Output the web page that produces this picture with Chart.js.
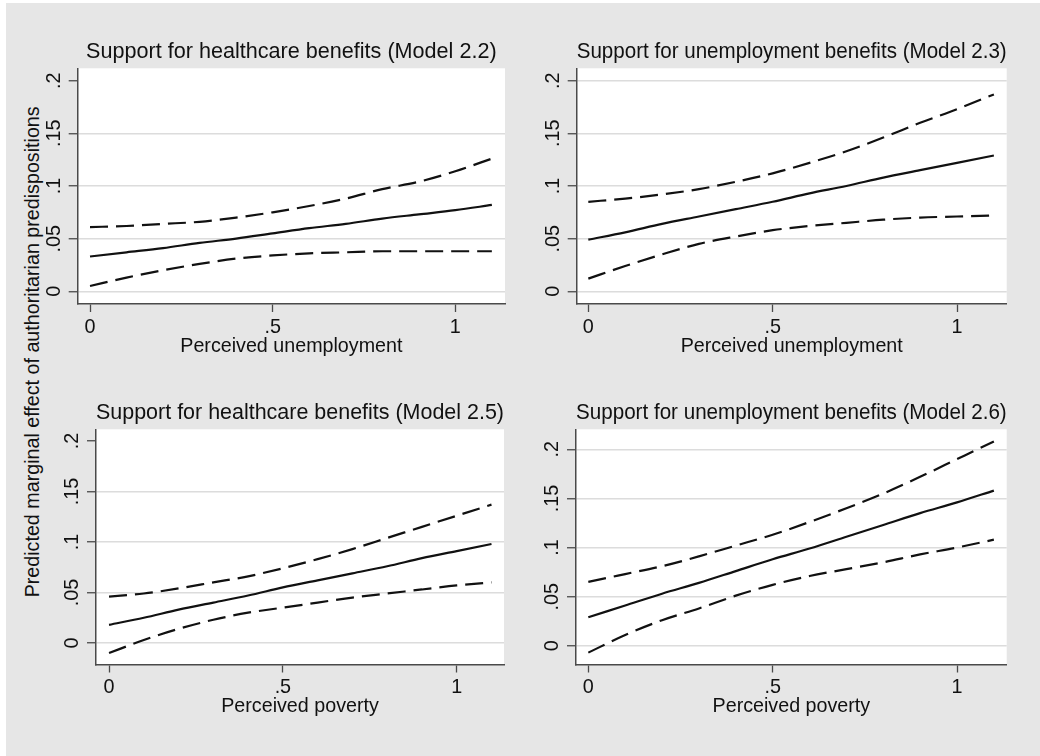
<!DOCTYPE html>
<html>
<head>
<meta charset="utf-8">
<script src="https://cdn.jsdelivr.net/npm/chart.js@4/dist/chart.umd.min.js"></script>
<style>
  html, body { margin: 0; padding: 0; }
  body { width: 1040px; height: 756px; background: #ffffff; position: relative; overflow: hidden;
         font-family: "Liberation Sans", Arial, sans-serif; }
  #frame { position: absolute; left: 6px; top: 3px; right: 0; bottom: 0; background: #e6e6e6; }
  canvas { position: absolute; }
  #ytitle { position: absolute; width: 600px; height: 19.7px; line-height: 19.7px; font-size: 19.7px;
            left: -266.8px; top: 341.6px; text-align: center; white-space: nowrap; color: #111;
            transform: rotate(-90deg); }
</style>
</head>
<body>
<div id="frame"></div>
<div id="ytitle">Predicted marginal effect of authoritarian predispositions</div>
<script>
// Values of the moderator at which the marginal effect was evaluated
const xValues = [0, 0.1, 0.2, 0.3, 0.4, 0.5, 0.6, 0.7, 0.8, 0.9, 1.0, 1.1];

// Model 2.2 – healthcare benefits by perceived unemployment
const est22   = [0.033, 0.037, 0.041, 0.046, 0.050, 0.055, 0.060, 0.064, 0.069, 0.073, 0.077, 0.082];
const upper22 = [0.061, 0.062, 0.064, 0.066, 0.070, 0.075, 0.081, 0.088, 0.097, 0.104, 0.114, 0.126];
const lower22 = [0.005, 0.013, 0.020, 0.026, 0.031, 0.034, 0.036, 0.037, 0.038, 0.038, 0.038, 0.038];

// Model 2.3 – unemployment benefits by perceived unemployment
const est23   = [0.049, 0.056, 0.064, 0.071, 0.078, 0.085, 0.093, 0.100, 0.108, 0.115, 0.122, 0.129];
const upper23 = [0.085, 0.088, 0.092, 0.097, 0.104, 0.112, 0.122, 0.133, 0.146, 0.160, 0.173, 0.187];
const lower23 = [0.012, 0.024, 0.035, 0.045, 0.052, 0.058, 0.062, 0.065, 0.068, 0.070, 0.071, 0.072];

// Model 2.5 – healthcare benefits by perceived poverty
const est25   = [0.018, 0.025, 0.033, 0.040, 0.047, 0.055, 0.062, 0.069, 0.076, 0.084, 0.091, 0.098];
const upper25 = [0.046, 0.049, 0.054, 0.060, 0.066, 0.074, 0.083, 0.093, 0.104, 0.115, 0.126, 0.137];
const lower25 = [-0.010, 0.003, 0.014, 0.023, 0.030, 0.035, 0.040, 0.045, 0.049, 0.053, 0.057, 0.060];

// Model 2.6 – unemployment benefits by perceived poverty
const est26   = [0.029, 0.041, 0.053, 0.064, 0.076, 0.088, 0.099, 0.111, 0.123, 0.135, 0.146, 0.158];
const upper26 = [0.065, 0.073, 0.081, 0.091, 0.102, 0.113, 0.126, 0.140, 0.155, 0.172, 0.190, 0.208];
const lower26 = [-0.007, 0.011, 0.026, 0.038, 0.051, 0.062, 0.071, 0.078, 0.085, 0.093, 0.100, 0.108];

// Axis ticks and their labels
const xTickValues = [0, 0.5, 1];
const xTickLabels = ['0', '.5', '1'];
const yTickValues = [0, 0.05, 0.1, 0.15, 0.2];
const yTickLabels = ['0', '.05', '.1', '.15', '.2'];

const panelTitles = [
  'Support for healthcare benefits (Model 2.2)',
  'Support for unemployment benefits (Model 2.3)',
  'Support for healthcare benefits (Model 2.5)',
  'Support for unemployment benefits (Model 2.6)'
];
const xAxisTitles = ['Perceived unemployment', 'Perceived unemployment', 'Perceived poverty', 'Perceived poverty'];

const series = [
  [est22, upper22, lower22],
  [est23, upper23, lower23],
  [est25, upper25, lower25],
  [est26, upper26, lower26]
];

// Panel geometry: canvas box and the plot region inside it (page pixels), plus axis ranges
const panels = [
  { box: { x: 0,   y: 0,   w: 520, h: 378 }, area: { l: 77.7,  r: 505,    t: 68.3,  b: 304 },
    x: [-0.0337, 1.136], y: [-0.0121, 0.2118], topGrid: false },
  { box: { x: 520, y: 0,   w: 520, h: 378 }, area: { l: 576.7, r: 1006.7, t: 68.3,  b: 304 },
    x: [-0.0315, 1.1348], y: [-0.0121, 0.2118], topGrid: true },
  { box: { x: 0,   y: 378, w: 520, h: 378 }, area: { l: 96,    r: 504,    t: 429.3, b: 664.5 },
    x: [-0.0375, 1.136], y: [-0.0213, 0.2116], topGrid: false },
  { box: { x: 520, y: 378, w: 520, h: 378 }, area: { l: 576,   r: 1006.7, t: 429.3, b: 664.5 },
    x: [-0.0334, 1.1348], y: [-0.0191, 0.2204], topGrid: true }
];

const FONT = '"Liberation Sans", Arial, sans-serif';
const TITLE_SIZE = 21.6, TICK_SIZE = 19.8, AXIS_TITLE_SIZE = 19.7;
const INK = '#111111', AXIS = '#4a4a4a', GRID = '#dcdcdc';
const Y_AXIS_W = 40, X_AXIS_H = 54;
const DASH = [18, 8];

const plotBackground = {
  id: 'plotBackground',
  beforeDraw(chart) {
    const a = chart.chartArea, ctx = chart.ctx;
    ctx.save();
    ctx.fillStyle = '#ffffff';
    ctx.fillRect(a.left, a.top, a.right - a.left, a.bottom - a.top);
    ctx.restore();
  }
};

panels.forEach((p, i) => {
  const c = document.createElement('canvas');
  c.width = p.box.w; c.height = p.box.h;
  c.style.left = p.box.x + 'px'; c.style.top = p.box.y + 'px';
  c.style.width = p.box.w + 'px'; c.style.height = p.box.h + 'px';
  document.body.appendChild(c);

  const titleLH = TITLE_SIZE * 1.2;
  const titlePadBottom = 2.82;
  const pad = {
    left: p.area.l - p.box.x - Y_AXIS_W,
    right: p.box.x + p.box.w - p.area.r,
    top: p.area.t - p.box.y - titleLH - titlePadBottom,
    bottom: p.box.y + p.box.h - p.area.b - X_AXIS_H
  };

  const [est, up, lo] = series[i];
  const toPts = arr => arr.map((v, k) => ({ x: xValues[k], y: v }));
  const lineStyle = { borderColor: INK, borderWidth: 2.2, pointRadius: 0, fill: false,
                      cubicInterpolationMode: 'monotone' };

  new Chart(c, {
    type: 'line',
    data: {
      datasets: [
        Object.assign({ label: 'Estimate', data: toPts(est) }, lineStyle),
        Object.assign({ label: 'Upper bound', data: toPts(up), borderDash: DASH }, lineStyle),
        Object.assign({ label: 'Lower bound', data: toPts(lo), borderDash: DASH }, lineStyle)
      ]
    },
    options: {
      responsive: false,
      animation: false,
      devicePixelRatio: 1,
      layout: { padding: pad },
      plugins: {
        legend: { display: false },
        tooltip: { enabled: false },
        title: {
          display: true, text: panelTitles[i], fullSize: false, color: INK,
          font: { family: FONT, size: TITLE_SIZE, weight: 'normal', lineHeight: 1.2 },
          padding: { top: 0, bottom: titlePadBottom }
        }
      },
      scales: {
        x: {
          type: 'linear', position: 'bottom', min: p.x[0], max: p.x[1],
          afterBuildTicks: s => { s.ticks = xTickValues.map(v => ({ value: v })); },
          afterFit: s => { s.height = X_AXIS_H; },
          grid: { drawOnChartArea: false, drawTicks: true, tickLength: 8, tickColor: AXIS, tickWidth: 1.3 },
          border: { display: true, color: AXIS, width: 1.5 },
          ticks: {
            padding: 3.4, color: INK, maxRotation: 0, autoSkip: false,
            font: { family: FONT, size: TICK_SIZE },
            callback: v => { const k = xTickValues.indexOf(v); return k >= 0 ? xTickLabels[k] : ''; }
          },
          title: {
            display: true, text: xAxisTitles[i], color: INK, padding: { top: 0, bottom: 0 },
            font: { family: FONT, size: AXIS_TITLE_SIZE, lineHeight: 1.2 }
          }
        },
        y: {
          type: 'linear', position: 'left', min: p.y[0], max: p.y[1],
          afterBuildTicks: s => { s.ticks = yTickValues.map(v => ({ value: v })); },
          afterFit: s => { s.width = Y_AXIS_W; },
          grid: {
            drawTicks: true, tickLength: 9, tickColor: AXIS, tickWidth: 1.3, lineWidth: 1.5,
            color: ctx => (ctx.tick && ctx.tick.value === 0.2 && !p.topGrid) ? 'rgba(0,0,0,0)' : GRID
          },
          border: { display: true, color: AXIS, width: 1.5 },
          ticks: {
            padding: 0.3, color: INK, minRotation: 90, maxRotation: 90, crossAlign: 'center', autoSkip: false,
            font: { family: FONT, size: TICK_SIZE },
            callback: v => { const k = yTickValues.indexOf(v); return k >= 0 ? yTickLabels[k] : ''; }
          }
        }
      }
    },
    plugins: [plotBackground]
  });
});
</script>
</body>
</html>
